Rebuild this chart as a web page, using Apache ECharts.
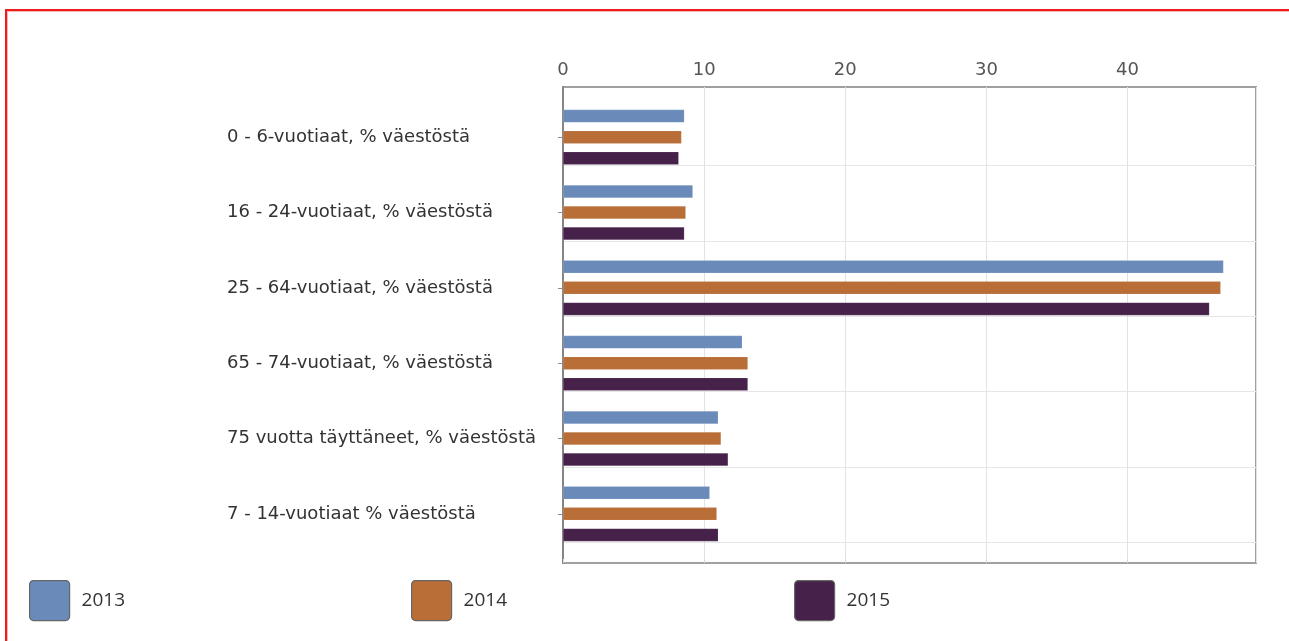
<!DOCTYPE html>
<html>
<head>
<meta charset="utf-8">
<script src="https://cdn.jsdelivr.net/npm/echarts@6/dist/echarts.min.js"></script>
<style>
  html, body { margin: 0; padding: 0; background: #ffffff; overflow: hidden; }
  #frame { position: absolute; left: 5px; top: 9px; width: 1320px; height: 700px;
           border-top: 2px solid #ee1c1c; border-left: 2px solid #ee1c1c;
           box-shadow: inset 1px 1px 0 #f9b3b3; }
  #chart { position: absolute; left: 0; top: 0; width: 1289px; height: 641px; }
</style>
</head>
<body>
<div id="frame"></div>
<div id="chart"></div>
<script>
const categories = [
  '0 - 6-vuotiaat, % väestöstä',
  '16 - 24-vuotiaat, % väestöstä',
  '25 - 64-vuotiaat, % väestöstä',
  '65 - 74-vuotiaat, % väestöstä',
  '75 vuotta täyttäneet, % väestöstä',
  '7 - 14-vuotiaat % väestöstä'
];
const seriesNames = ['2013', '2014', '2015'];
const values2013 = [8.6, 9.2, 46.8, 12.7, 11.0, 10.4];
const values2014 = [8.4, 8.7, 46.6, 13.1, 11.2, 10.9];
const values2015 = [8.2, 8.6, 45.8, 13.1, 11.7, 11.0];
const axisMax = 49.1;
const axisInterval = 10;

const colors = ['#6a8bba', '#b96e38', '#46214a'];
const seriesValues = [values2013, values2014, values2015];

const chart = echarts.init(document.getElementById('chart'), null, { renderer: 'canvas' });

const iconPath = 'path://M4,0 H36 A4,4 0 0 1 40,4 V36 A4,4 0 0 1 36,40 H4 A4,4 0 0 1 0,36 V4 A4,4 0 0 1 4,0 Z';
const legendLefts = [29, 411, 794];

const option = {
  backgroundColor: 'transparent',
  animation: false,
  grid: [
    { left: 563, top: 87, width: 693, height: 476, show: true, borderColor: '#a0a0a0', borderWidth: 2, backgroundColor: 'transparent' },
    { left: 563, top: 99.5, width: 693, height: 452 },
    { left: 563, top: 165.5, width: 693, height: 377 }
  ],
  xAxis: [
    {
      gridIndex: 0, type: 'value', position: 'top', min: 0, max: axisMax, interval: axisInterval,
      axisLine: { show: false },
      axisTick: { show: true, length: 4, lineStyle: { color: '#d6d6d6' } },
      axisLabel: { fontSize: 18, color: '#555', fontFamily: 'DejaVu Sans', margin: 8, showMaxLabel: false },
      splitLine: { show: true, lineStyle: { color: '#e2e2e2', width: 1 } }
    },
    { gridIndex: 1, type: 'value', min: 0, max: axisMax, show: false },
    { gridIndex: 2, type: 'value', min: 0, max: axisMax, show: false }
  ],
  yAxis: [
    {
      gridIndex: 0, type: 'value', min: 0, max: 1,
      axisLine: { show: true, lineStyle: { color: '#858585', width: 2 } },
      axisTick: { show: false }, axisLabel: { show: false }, splitLine: { show: false }
    },
    {
      gridIndex: 1, type: 'category', data: categories, inverse: true,
      axisLine: { show: false },
      axisTick: { show: true, alignWithLabel: true, length: 5, lineStyle: { color: '#8a8a8a' } },
      axisLabel: { align: 'left', margin: 336, fontSize: 18, color: '#333', fontFamily: 'DejaVu Sans' },
      splitLine: { show: false }
    },
    {
      gridIndex: 2, type: 'value', min: 0, max: 5, interval: 1,
      axisLine: { show: false }, axisTick: { show: false }, axisLabel: { show: false },
      splitLine: { show: true, lineStyle: { color: '#e6e6e6', width: 1 } }
    }
  ],
  legend: seriesNames.map((n, i) => ({
    data: [n],
    left: legendLefts[i], top: 580, padding: 0,
    itemWidth: 40, itemHeight: 40, icon: iconPath,
    selectedMode: false,
    itemStyle: { borderColor: '#666666', borderWidth: 1.2 },
    textStyle: { fontSize: 19, color: '#333', fontFamily: 'Open Sans', padding: [0, 0, 0, 7] }
  })),
  series: seriesNames.map((n, i) => ({
    name: n, type: 'bar', xAxisIndex: 1, yAxisIndex: 1,
    data: seriesValues[i],
    barWidth: 13, barGap: '62%',
    itemStyle: { color: colors[i], borderColor: 'rgba(255,255,255,0.25)', borderWidth: 0.5 }
  }))
};
chart.setOption(option);
</script>
</body>
</html>
